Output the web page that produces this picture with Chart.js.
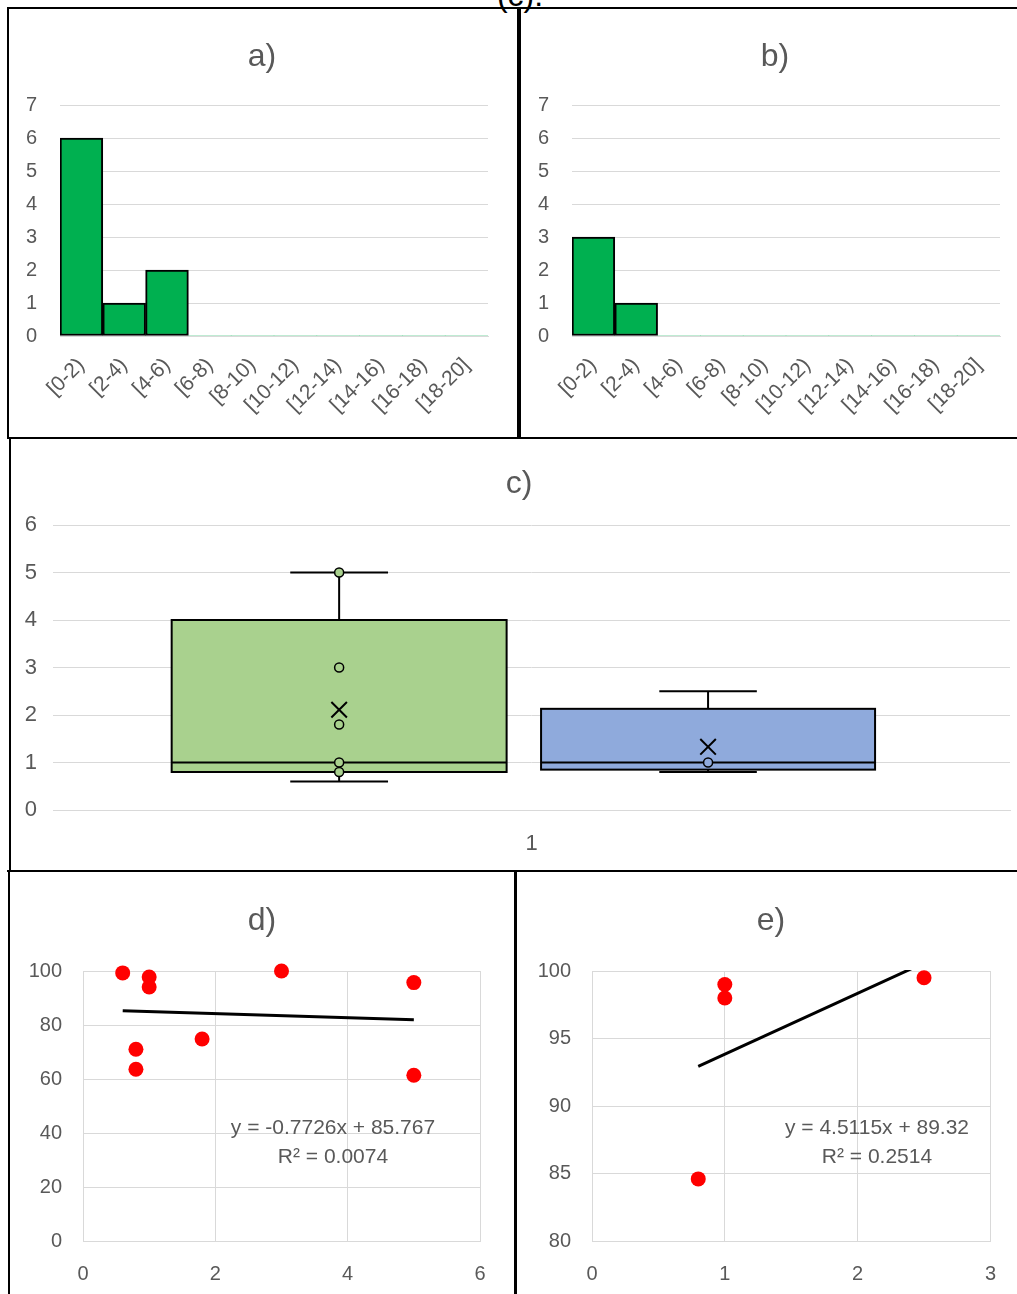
<!DOCTYPE html>
<html>
<head>
<meta charset="utf-8">
<script src="https://cdn.jsdelivr.net/npm/chart.js@4.4.1/dist/chart.umd.min.js"></script>
<style>
    html, body { margin: 0; padding: 0; background: #fff; }
    body { width: 1017px; height: 1294px; position: relative; overflow: hidden; font-family: 'Liberation Sans', Arial, sans-serif; }
    .panel { position: absolute; }
    .panel canvas { display: block; }
    .rule { position: absolute; background: #000; }
    .txt { position: absolute; color: #595959; white-space: nowrap; line-height: 1; transform: translate(-50%, -50%); }
    .title { font-size: 32px; }
    .eq { font-size: 21px; }
</style>
</head>
<body>

<div class="txt title" style="left:520px;top:-5px;color:#000;">(c).</div>

<!-- frame lines -->
<div class="rule" style="left:8px;top:7px;width:1009px;height:2px;"></div>
<div class="rule" style="left:7px;top:7px;width:2px;height:432px;"></div>
<div class="rule" style="left:517px;top:7px;width:4px;height:432px;"></div>
<div class="rule" style="left:7px;top:437px;width:1010px;height:2px;"></div>
<div class="rule" style="left:9px;top:437px;width:2px;height:435px;"></div>
<div class="rule" style="left:7px;top:870px;width:1010px;height:2px;"></div>
<div class="rule" style="left:8px;top:870px;width:2px;height:424px;"></div>
<div class="rule" style="left:514px;top:870px;width:3px;height:424px;"></div>

<div id="wrap"></div>

<div class="txt title" style="left:262px;top:55px;">a)</div>
<div class="txt title" style="left:775px;top:55px;">b)</div>
<div class="txt title" style="left:519px;top:482px;">c)</div>
<div class="txt title" style="left:262px;top:919px;">d)</div>
<div class="txt title" style="left:771px;top:919px;">e)</div>

<div class="txt eq" style="left:333px;top:1126px;">y = -0.7726x + 85.767</div>
<div class="txt eq" style="left:333px;top:1155px;">R² = 0.0074</div>
<div class="txt eq" style="left:877px;top:1126px;">y = 4.5115x + 89.32</div>
<div class="txt eq" style="left:877px;top:1155px;">R² = 0.2514</div>

<script>
// ── Data ─────────────────────────────────────────────────────
const binLabels = ['[0-2)', '[2-4)', '[4-6)', '[6-8)', '[8-10)', '[10-12)', '[12-14)', '[14-16)', '[16-18)', '[18-20]'];
const countsA   = [6, 1, 2, 0, 0, 0, 0, 0, 0, 0];
const countsB   = [3, 1, 0, 0, 0, 0, 0, 0, 0, 0];

const boxMin    = [0.6, 0.8];
const boxQ1     = [0.8, 0.85];
const boxMedian = [1.0, 1.0];
const boxQ3     = [4.0, 2.13];
const boxMax    = [5.0, 2.5];
const boxMean   = [2.11, 1.33];
const boxPoints = [[5, 3, 1.8, 1, 0.8], [1]];

const dX      = [0.6, 1.0, 1.0, 3.0, 5.0, 0.8, 0.8, 1.8, 5.0];
const dY      = [99.3, 97.8, 94.1, 100, 95.7, 71.0, 63.6, 74.8, 61.4];
const dTrendX = [0.6, 5.0];
const dTrendY = [85.30, 81.90];

const eX      = [1.0, 1.0, 2.5, 0.8];
const eY      = [99.0, 98.0, 99.5, 84.6];
const eTrendX = [0.8, 2.5];
const eTrendY = [92.93, 100.60];

// ── Layout / style ───────────────────────────────────────────
const GRID  = '#D9D9D9';
const TEXT  = '#595959';
const BOX_FILL = ['#A9D18E', '#8FAADC'];
const BOX_SPAN = [[0.124, 0.474], [0.510, 0.859]];   // fraction of the c) axis

Chart.defaults.font.family = "'Liberation Sans', Arial, sans-serif";
Chart.defaults.color = TEXT;
Chart.defaults.animation = false;
Chart.defaults.plugins.legend.display = false;
Chart.defaults.plugins.tooltip.enabled = false;

// panel = [left, top, width, height], plot = [left, top, right, bottom] (page px)
function makeCanvas(panel) {
    const div = document.createElement('div');
    div.className = 'panel';
    div.style.cssText = `left:${panel[0]}px;top:${panel[1]}px;width:${panel[2]}px;height:${panel[3]}px;`;
    const cv = document.createElement('canvas');
    cv.width = panel[2]; cv.height = panel[3];
    div.appendChild(cv);
    document.getElementById('wrap').appendChild(div);
    return cv;
}
function frame(panel, plot) {
    return {
        padding: { left: 0, top: plot[1] - panel[1], right: panel[0] + panel[2] - plot[2], bottom: 0 },
        yWidth: plot[0] - panel[0],
        xHeight: panel[1] + panel[3] - plot[3]
    };
}
const toXY = (xs, ys) => xs.map((x, i) => ({ x, y: ys[i] }));

// ── Histograms a) b) ─────────────────────────────────────────
function histogram(counts, panel, plot) {
    const f = frame(panel, plot);
    new Chart(makeCanvas(panel), {
        type: 'bar',
        data: {
            labels: binLabels,
            datasets: [{
                data: counts,
                backgroundColor: '#00B050',
                borderColor: '#000',
                borderWidth: c => (c.raw ? 2 : 0),
                borderSkipped: false,
                barPercentage: 1,
                categoryPercentage: 1
            }]
        },
        options: {
            responsive: false,
            layout: { padding: f.padding },
            scales: {
                x: {
                    grid: { display: false, drawTicks: false },
                    border: { display: true, color: GRID },
                    ticks: { minRotation: 45, maxRotation: 45, autoSkip: false, padding: 17, font: { size: 21 } },
                    afterFit: s => { s.height = f.xHeight; }
                },
                y: {
                    min: 0, max: 7,
                    ticks: { stepSize: 1, padding: 23, font: { size: 20 } },
                    grid: { color: GRID, drawTicks: false },
                    border: { display: false },
                    afterFit: s => { s.width = f.yWidth; }
                }
            }
        }
    });
}
histogram(countsA, [10, 10, 507, 428], [60, 105, 488, 336]);
histogram(countsB, [521, 10, 496, 428], [572, 105, 1000, 336]);

// ── Box & whisker c) ─────────────────────────────────────────
const boxPlugin = {
    id: 'boxes',
    beforeDatasetsDraw(chart) {
        const { ctx, scales: { x, y } } = chart;
        ctx.save();
        ctx.strokeStyle = '#000';
        ctx.lineWidth = 2;
        boxQ1.forEach((q1, i) => {
            const xl = x.getPixelForValue(BOX_SPAN[i][0]);
            const xr = x.getPixelForValue(BOX_SPAN[i][1]);
            const xc = (xl + xr) / 2, cap = (xr - xl) * 0.146;
            const yMin = y.getPixelForValue(boxMin[i]), yMax = y.getPixelForValue(boxMax[i]);
            const yQ1 = y.getPixelForValue(q1), yQ3 = y.getPixelForValue(boxQ3[i]);
            const yMed = y.getPixelForValue(boxMedian[i]);
            ctx.beginPath();
            ctx.moveTo(xc, yQ3); ctx.lineTo(xc, yMax);
            ctx.moveTo(xc - cap, yMax); ctx.lineTo(xc + cap, yMax);
            ctx.moveTo(xc, yQ1); ctx.lineTo(xc, yMin);
            ctx.moveTo(xc - cap, yMin); ctx.lineTo(xc + cap, yMin);
            ctx.stroke();
            ctx.fillStyle = BOX_FILL[i];
            ctx.fillRect(xl, yQ3, xr - xl, yQ1 - yQ3);
            ctx.strokeRect(xl, yQ3, xr - xl, yQ1 - yQ3);
            ctx.beginPath();
            ctx.moveTo(xl, yMed); ctx.lineTo(xr, yMed);
            ctx.stroke();
        });
        ctx.restore();
    }
};

(function boxChart() {
    const panel = [11, 440, 1012, 430], plot = [53, 525, 1013, 810];
    const f = frame(panel, plot);
    const centre = i => (BOX_SPAN[i][0] + BOX_SPAN[i][1]) / 2;
    const datasets = [];
    boxMean.forEach((m, i) => datasets.push({
        data: [{ x: centre(i), y: m }],
        pointStyle: 'crossRot', pointRadius: 11, borderColor: '#000', borderWidth: 2
    }));
    boxPoints.forEach((pts, i) => datasets.push({
        data: pts.map(v => ({ x: centre(i), y: v })),
        pointRadius: 4.5, backgroundColor: BOX_FILL[i], borderColor: '#000', borderWidth: 1.5
    }));
    new Chart(makeCanvas(panel), {
        type: 'scatter',
        data: { datasets },
        options: {
            responsive: false,
            layout: { padding: f.padding },
            scales: {
                x: {
                    type: 'linear', min: 0, max: 1,
                    afterBuildTicks: a => { a.ticks = [{ value: 0.5 }]; },
                    ticks: { callback: () => '1', padding: 21, font: { size: 22 } },
                    grid: { display: false, drawTicks: false },
                    border: { display: true, color: GRID },
                    afterFit: s => { s.height = f.xHeight; }
                },
                y: {
                    min: 0, max: 6,
                    ticks: { stepSize: 1, padding: 16, font: { size: 22 } },
                    grid: { color: GRID, drawTicks: false },
                    border: { display: false },
                    afterFit: s => { s.width = f.yWidth; }
                }
            }
        },
        plugins: [boxPlugin]
    });
})();

// ── Scatter + trendline d) e) ────────────────────────────────
function scatter(xs, ys, tx, ty, xr, yr, panel, plot) {
    const f = frame(panel, plot);
    new Chart(makeCanvas(panel), {
        type: 'scatter',
        data: {
            datasets: [
                { data: toXY(tx, ty), showLine: true, borderColor: '#000', borderWidth: 3, pointRadius: 0, clip: 1 },
                { data: toXY(xs, ys), backgroundColor: '#FF0000', borderWidth: 0, pointRadius: 7.5, clip: false }
            ]
        },
        options: {
            responsive: false,
            layout: { padding: f.padding },
            scales: {
                x: {
                    type: 'linear', min: xr[0], max: xr[1],
                    ticks: { stepSize: xr[2], padding: 21, font: { size: 20 } },
                    grid: { color: GRID, drawTicks: false },
                    border: { color: GRID },
                    afterFit: s => { s.height = f.xHeight; }
                },
                y: {
                    min: yr[0], max: yr[1],
                    ticks: { stepSize: yr[2], padding: 21, font: { size: 20 } },
                    grid: { color: GRID, drawTicks: false },
                    border: { color: GRID },
                    afterFit: s => { s.width = f.yWidth; }
                }
            }
        }
    });
}
scatter(dX, dY, dTrendX, dTrendY, [0, 6, 2], [0, 100, 20], [10, 872, 504, 422], [83, 971, 480, 1241]);
scatter(eX, eY, eTrendX, eTrendY, [0, 3, 1], [80, 100, 5], [517, 872, 500, 422], [592, 971, 993, 1241]);
</script>
</body>
</html>
